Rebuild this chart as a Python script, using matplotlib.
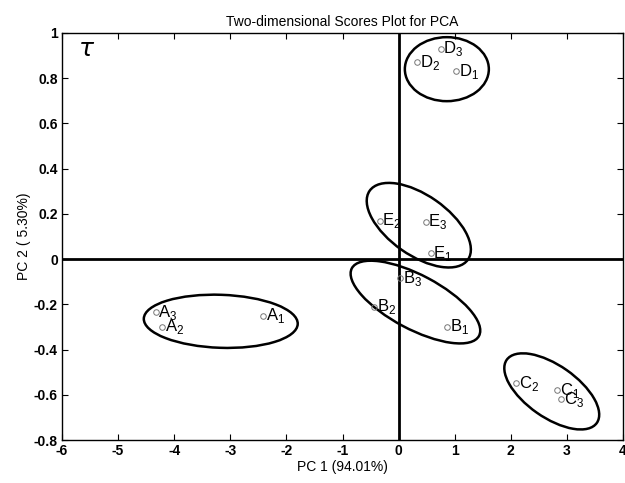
import matplotlib
matplotlib.use("Agg")
import matplotlib.pyplot as plt
from matplotlib.patches import Ellipse
from matplotlib.transforms import ScaledTranslation

plt.rcParams['font.family'] = ['Liberation Sans', 'DejaVu Sans']
plt.rcParams['axes.unicode_minus'] = False

# sample scores
labels = ["A_1", "A_2", "A_3", "B_1", "B_2", "B_3", "C_1", "C_2", "C_3",
          "D_1", "D_2", "D_3", "E_1", "E_2", "E_3"]
pc1 = [-2.42, -4.22, -4.33, 0.86, -0.43, 0.03, 2.83, 2.10, 2.90,
       1.03, 0.33, 0.75, 0.57, -0.34, 0.48]
pc2 = [-0.25, -0.30, -0.235, -0.30, -0.21, -0.085, -0.58, -0.55, -0.62,
       0.83, 0.87, 0.93, 0.027, 0.17, 0.165]

# group ellipses: centre (data), width/height (inches), angle (deg)
ell_cx = [-3.17, 0.30, 2.73, 0.86, 0.36]
ell_cy = [-0.275, -0.19, -0.585, 0.84, 0.15]
ell_w = [1.54, 1.44, 1.10, 0.84, 1.20]
ell_h = [0.53, 0.54, 0.52, 0.64, 0.60]
ell_ang = [-2, -28, -35, 0, -35]

xticks = [-6, -5, -4, -3, -2, -1, 0, 1, 2, 3, 4]
yticks = [-0.8, -0.6, -0.4, -0.2, 0, 0.2, 0.4, 0.6, 0.8, 1]
ytick_labels = ["-0.8", "-0.6", "-0.4", "-0.2", "0", "0.2", "0.4", "0.6", "0.8", "1"]

fig = plt.figure(figsize=(6.25, 4.83), dpi=100)
ax = fig.add_axes([0.0992, 0.089, 0.8976, 0.8427])
ax.set_xlim(-6, 4)
ax.set_ylim(-0.8, 1)

ax.axhline(0, color='black', lw=2, zorder=1)
ax.axvline(0, color='black', lw=2, zorder=1)

ax.plot(pc1, pc2, linestyle='none', marker='o', ms=4, mfc='none',
        mec='#777777', mew=0.7, zorder=3)
for lab, x, y in zip(labels, pc1, pc2):
    base, sub = lab.split("_")
    ax.annotate(r"%s$_{\mathregular{%s}}$" % (base, sub), (x, y),
                xytext=(2, 0), textcoords='offset points',
                ha='left', va='center', fontsize=12, zorder=4)

for cx, cy, w, h, a in zip(ell_cx, ell_cy, ell_w, ell_h, ell_ang):
    tr = fig.dpi_scale_trans + ScaledTranslation(cx, cy, ax.transData)
    e = Ellipse((0, 0), w, h, angle=a, transform=tr, fill=False,
                edgecolor='black', lw=1.8, zorder=2)
    ax.add_patch(e)

ax.text(-5.72, 0.93, r"$\tau$", fontsize=18, ha='left', va='center')

ax.set_xticks(xticks)
ax.set_yticks(yticks)
ax.set_yticklabels(ytick_labels)
ax.tick_params(direction='in', top=True, right=True, length=4,
               labelsize=10, width=0.8, pad=3)
for t in ax.get_xticklabels() + ax.get_yticklabels():
    t.set_fontweight('bold')
for s in ax.spines.values():
    s.set_linewidth(1.0)

ax.set_title("Two-dimensional Scores Plot for PCA", fontsize=10, pad=5)
ax.set_xlabel("PC 1 (94.01%)", fontsize=10, labelpad=1)
ax.set_ylabel("PC 2 ( 5.30%)", fontsize=10, labelpad=2)

fig.savefig("out.png", dpi=100)
